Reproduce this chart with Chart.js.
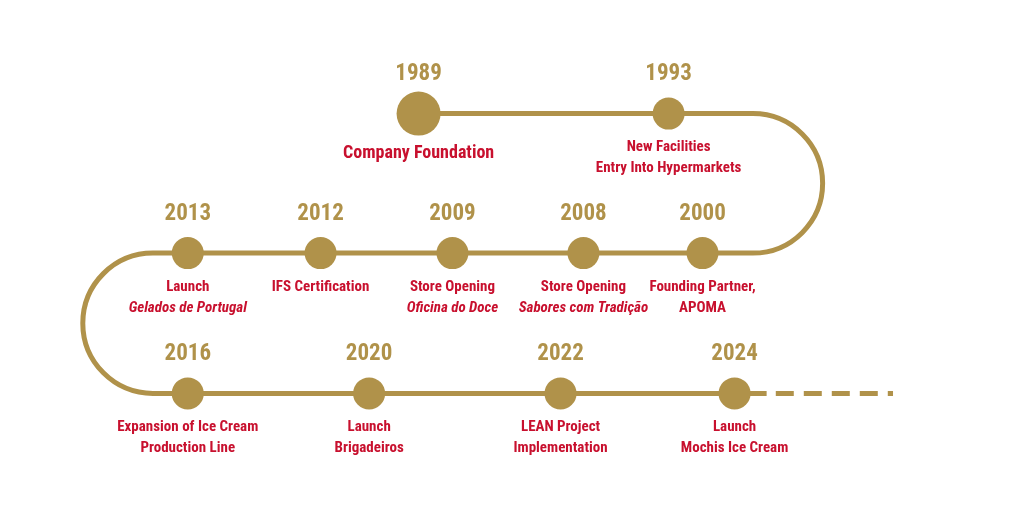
<!DOCTYPE html>
<html><head><meta charset="utf-8">
<script src="https://cdn.jsdelivr.net/npm/chart.js"></script>
<style>html,body{margin:0;padding:0;background:#fff}#w{width:1024px;height:528px}</style>
</head><body><div id="w"><canvas id="c"></canvas></div>
<script>
const years = ['1989','1993','2000','2008','2009','2012','2013','2016','2020','2022','2024'];
const xPos  = [410,683,720,590,447,303,158,158,356,565,755];
const rowY  = [85,85,251,251,251,251,251,418,418,418,418];
const line1 = ['Company Foundation','New Facilities','Founding Partner,','Store Opening','Store Opening','IFS Certification','Launch','Expansion of Ice Cream','Launch','LEAN Project','Launch'];
const line2 = ['','Entry Into Hypermarkets','APOMA','Sabores com Tradição','Oficina do Doce','','Gelados de Portugal','Production Line','Brigadeiros','Implementation','Mochis Ice Cream'];
const italic2 = [false,false,false,true,true,false,true,false,false,false,false];
const GOLD='#B0924A', RED='#C8102E', F='"Liberation Sans Narrow","Roboto Condensed",Roboto,sans-serif';

const plug={id:'tl',beforeDatasetsDraw(ch){
  const c=ch.ctx,X=ch.scales.x,Y=ch.scales.y,px=v=>X.getPixelForValue(v),py=v=>Y.getPixelForValue(v);
  c.save();c.strokeStyle=GOLD;c.lineWidth=5;c.beginPath();
  c.moveTo(px(410),py(85));c.lineTo(px(775),py(85));
  c.arc(px(775),py(168),py(168)-py(85),-Math.PI/2,Math.PI/2);
  c.lineTo(px(120),py(251));
  c.arc(px(120),py(334.5),py(334.5)-py(251),-Math.PI/2,Math.PI/2,true);
  c.lineTo(px(790),py(418));c.stroke();
  c.setLineDash([18,10]);c.beginPath();c.moveTo(px(800),py(418));c.lineTo(px(928),py(418));c.stroke();
  c.restore();
},afterDatasetsDraw(ch){
  const c=ch.ctx,X=ch.scales.x,Y=ch.scales.y;c.save();c.textAlign='center';
  years.forEach((yr,i)=>{const x=X.getPixelForValue(xPos[i]),y=Y.getPixelForValue(rowY[i]);
    c.fillStyle=GOLD;c.font='bold 23px '+F;c.textBaseline='middle';c.fillText(yr,x,y-39);
    c.fillStyle=RED;c.font=(i===0?'bold 18px ':'bold 15px ')+F;c.fillText(line1[i],x,y+(i===0?40:34));
    if(line2[i]){c.font=(italic2[i]?'italic bold 15px ':'bold 15px ')+F;c.fillText(line2[i],x,y+55);}
  });c.restore();}};

new Chart(document.getElementById('c'),{type:'scatter',
 data:{datasets:[{data:xPos.map((x,i)=>({x,y:rowY[i]})),pointRadius:xPos.map((x,i)=>i===0?22:16),
   pointHoverRadius:16,backgroundColor:GOLD,borderColor:GOLD,borderWidth:0}]},
 options:{responsive:true,maintainAspectRatio:false,animation:false,layout:{padding:0},
  plugins:{legend:{display:false},tooltip:{enabled:false}},
  scales:{x:{type:'linear',min:-22*1024/980,max:1024+22*1024/980,display:false},
          y:{type:'linear',min:-22*528/484,max:528+22*528/484,reverse:true,display:false}}},
 plugins:[plug]});
</script></body></html>
